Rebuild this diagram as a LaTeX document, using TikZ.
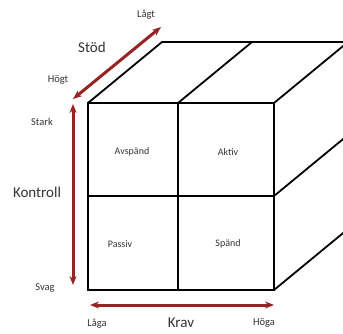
\documentclass[tikz,border=0pt]{standalone}
\usepackage{fontspec}
\setmainfont{Carlito}
\usetikzlibrary{arrows.meta}
\definecolor{axisred}{RGB}{150,36,36}
\tikzset{
    edge/.style={line width=1.8pt, line join=miter},
    axis/.style={axisred, line width=3pt, {Stealth[length=9pt,width=7pt]}-{Stealth[length=9pt,width=7pt]}},
    small/.style={font=\fontsize{10.5}{12}\selectfont, text=black!80},
    big/.style={font=\fontsize{15}{17}\selectfont, text=black!80},
    cell/.style={font=\fontsize{10}{12}\selectfont, text=black!80}
}
\begin{document}
\begin{tikzpicture}[x=1pt, y=-1pt]
    \useasboundingbox (0,0) rectangle (343,333);
    \clip (0,0) rectangle (343,333);
    % Front face corners and back offset
    \coordinate (ftl) at (88,103);
    \coordinate (ftm) at (178,103);
    \coordinate (ftr) at (274,103);
    \coordinate (fml) at (88,196);
    \coordinate (fmr) at (274,196);
    \coordinate (fbl) at (88,290);
    \coordinate (fbm) at (178,290);
    \coordinate (fbr) at (274,290);
    \coordinate (btl) at (162,42);
    \coordinate (btm) at (252,42);
    \coordinate (btr) at (348,42);
    \coordinate (bmr) at (348,135);
    \coordinate (bbr) at (348,229);

    % Cube
    \draw[edge] (ftl) rectangle (fbr);
    \draw[edge] (ftm) -- (fbm);
    \draw[edge] (fml) -- (fmr);
    \draw[edge] (ftl) -- (btl) -- (btr) -- (bbr) -- (fbr);
    \draw[edge] (ftm) -- (btm);
    \draw[edge] (ftr) -- (btr);
    \draw[edge] (fmr) -- (bmr);

    % Cells
    \node[cell] (avspand) at (132,152) {Avspänd};
    \node[cell] (aktiv) at (228,152) {Aktiv};
    \node[cell] (passiv) at (120,244) {Passiv};
    \node[cell] (spand) at (228,244) {Spänd};

    % Axes
    \coordinate (stodlo) at (73,99);
    \coordinate (stodhi) at (161,27);
    \coordinate (kontop) at (73,104);
    \coordinate (konbot) at (73,285);
    \coordinate (kravl) at (90,305);
    \coordinate (kravr) at (274,305);
    \draw[axis] (stodlo) -- (stodhi);
    \draw[axis] (kontop) -- (konbot);
    \draw[axis] (kravl) -- (kravr);

    \node[small] (lagt) at (146,15) {Lågt};
    \node[big] (stod) at (92,47) {Stöd};
    \node[small] (hogt) at (58,80) {Högt};
    \node[small] (stark) at (42,122) {Stark};
    \node[big] (kontroll) at (37,192) {Kontroll};
    \node[small] (svag) at (45,288) {Svag};
    \node[small] (laga) at (97,324) {Låga};
    \node[big] (krav) at (181,323) {Krav};
    \node[small] (hoga) at (264,323) {Höga};
\end{tikzpicture}
\end{document}
